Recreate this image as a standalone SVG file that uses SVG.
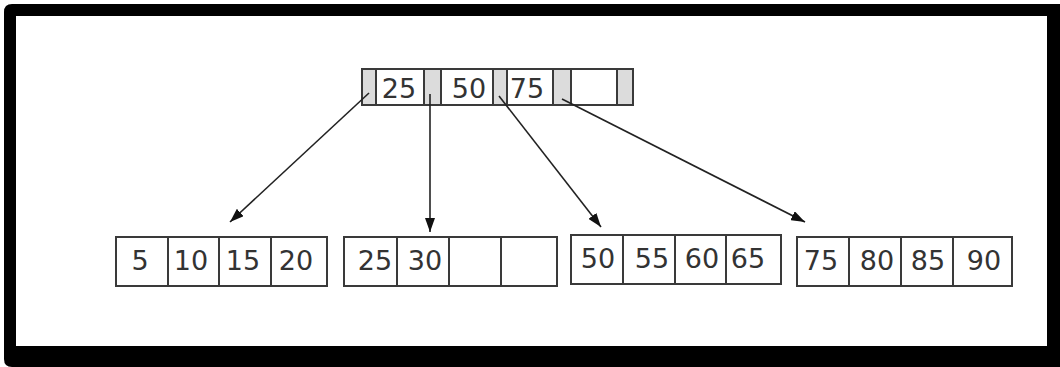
<svg xmlns="http://www.w3.org/2000/svg" width="1060" height="367" viewBox="0 0 1060 367">
<style>
.cell{fill:#fff;stroke:#3a3a3a;stroke-width:2}
.ptr{fill:#dcdcdc;stroke:#3a3a3a;stroke-width:2}
.k{font-family:"DejaVu Sans",sans-serif;font-size:27px;fill:#333;text-anchor:middle}
.c{stroke:#222;stroke-width:1.6;fill:none;marker-end:url(#ah)}
</style>
<defs>
<marker id="ah" viewBox="0 0 14 10" refX="14" refY="5" markerWidth="14" markerHeight="10" markerUnits="userSpaceOnUse" orient="auto">
<path d="M0,0 L14,5 L0,10 Z" fill="#111"/>
</marker>
</defs>
<g id="frame">
<path d="M12,4 H1060 V367 H12 Q4,367 4,359 V12 Q4,4 12,4 Z" fill="#000"/>
<rect x="16" y="16" width="1031" height="330" fill="#fff"/>
</g>
<g id="root">
<rect class="ptr" x="362" y="69" width="14" height="36"/>
<rect class="cell" x="376" y="69" width="48" height="36"/>
<rect class="ptr" x="424" y="69" width="17" height="36"/>
<rect class="cell" x="441" y="69" width="52" height="36"/>
<rect class="ptr" x="493" y="69" width="14" height="36"/>
<rect class="cell" x="507" y="69" width="46" height="36"/>
<rect class="ptr" x="553" y="69" width="18" height="36"/>
<rect class="cell" x="571" y="69" width="46" height="36"/>
<rect class="ptr" x="617" y="69" width="16" height="36"/>
<text class="k" x="399" y="98">25</text>
<text class="k" x="469" y="98">50</text>
<text class="k" x="527" y="98">75</text>
</g>
<g id="leaf1">
<rect class="cell" x="116" y="237" width="52" height="49"/>
<rect class="cell" x="168" y="237" width="51" height="49"/>
<rect class="cell" x="219" y="237" width="52" height="49"/>
<rect class="cell" x="271" y="237" width="56" height="49"/>
<text class="k" x="140" y="270">5</text>
<text class="k" x="191" y="270">10</text>
<text class="k" x="243" y="270">15</text>
<text class="k" x="296" y="270">20</text>
</g>
<g id="leaf2">
<rect class="cell" x="344" y="237" width="53" height="49"/>
<rect class="cell" x="397" y="237" width="52" height="49"/>
<rect class="cell" x="449" y="237" width="52" height="49"/>
<rect class="cell" x="501" y="237" width="56" height="49"/>
<text class="k" x="375" y="270">25</text>
<text class="k" x="425" y="270">30</text>
</g>
<g id="leaf3">
<rect class="cell" x="571" y="235" width="52" height="49"/>
<rect class="cell" x="623" y="235" width="52" height="49"/>
<rect class="cell" x="675" y="235" width="51" height="49"/>
<rect class="cell" x="726" y="235" width="55" height="49"/>
<text class="k" x="598" y="268">50</text>
<text class="k" x="652" y="268">55</text>
<text class="k" x="702" y="268">60</text>
<text class="k" x="748" y="268">65</text>
</g>
<g id="leaf4">
<rect class="cell" x="797" y="237" width="52" height="49"/>
<rect class="cell" x="849" y="237" width="52" height="49"/>
<rect class="cell" x="901" y="237" width="52" height="49"/>
<rect class="cell" x="953" y="237" width="59" height="49"/>
<text class="k" x="821" y="270">75</text>
<text class="k" x="877" y="270">80</text>
<text class="k" x="928" y="270">85</text>
<text class="k" x="984" y="270">90</text>
</g>
<g id="connectors">
<line class="c" x1="369" y1="93" x2="230" y2="222"/>
<line class="c" x1="430" y1="94" x2="430" y2="232"/>
<line class="c" x1="499" y1="96" x2="601" y2="227"/>
<line class="c" x1="562" y1="99" x2="805" y2="222"/>
</g>
</svg>
